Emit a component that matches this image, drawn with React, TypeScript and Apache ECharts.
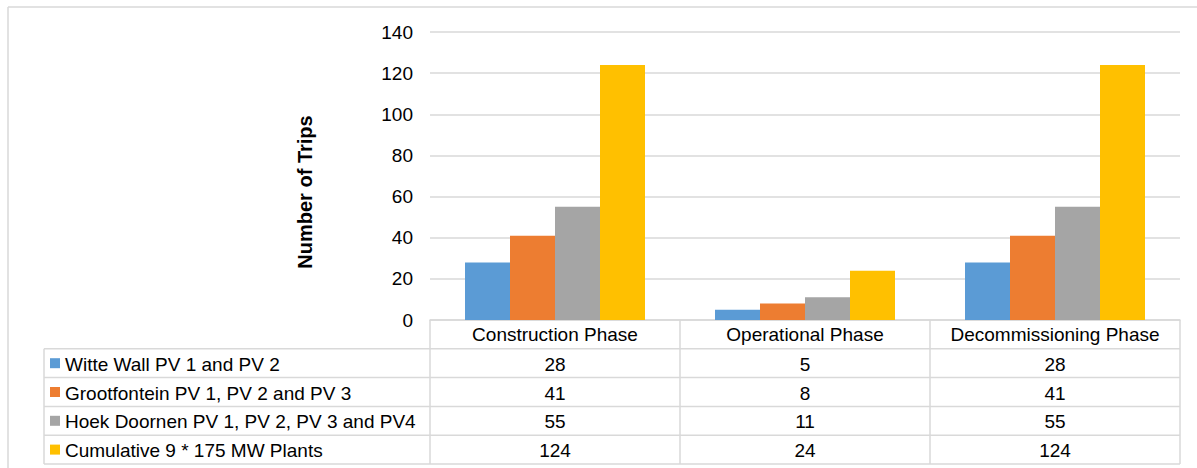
import React, { useEffect, useRef } from "react";
import * as echarts from "echarts";

const categories = ["Construction Phase", "Operational Phase", "Decommissioning Phase"];
const seriesNames = [
  "Witte Wall PV 1 and PV 2",
  "Grootfontein PV 1, PV 2 and PV 3",
  "Hoek Doornen PV 1, PV 2, PV 3 and PV4",
  "Cumulative 9 * 175 MW Plants",
];
const witteWall = [28, 5, 28];
const grootfontein = [41, 8, 41];
const hoekDoornen = [55, 11, 55];
const cumulative = [124, 24, 124];
const seriesValues = [witteWall, grootfontein, hoekDoornen, cumulative];
const colors = ["#5B9BD5", "#ED7D31", "#A5A5A5", "#FFC000"];
const yTicks = [0, 20, 40, 60, 80, 100, 120, 140];

const W = 1197;
const H = 468;
const GRID_LEFT = 430;
const GRID_RIGHT = 1180;
const GRID_TOP = 32;
const GRID_BOTTOM = 320;
const TABLE_LEFT = 44;
const ROW_H = 28.8;
const FONT = "'Liberation Sans', Arial, sans-serif";
const LINE = "#d9d9d9";
const FS = 19;

export default function App() {
  const ref = useRef<HTMLDivElement>(null);
  useEffect(() => {
    if (!ref.current) return;
    const chart = echarts.init(ref.current, undefined, { renderer: "svg" });
    const nRows = seriesNames.length;
    const tableBottom = GRID_BOTTOM + ROW_H * (nRows + 1);
    chart.setOption({
      animation: false,
      backgroundColor: "#ffffff",
      textStyle: { fontFamily: FONT },
      grid: {
        left: GRID_LEFT,
        right: W - GRID_RIGHT,
        top: GRID_TOP,
        bottom: H - GRID_BOTTOM,
        containLabel: false,
      },
      xAxis: {
        type: "category",
        data: categories,
        axisLine: { show: true, lineStyle: { color: LINE, width: 1.5 } },
        axisTick: {
          show: true,
          inside: false,
          length: tableBottom - GRID_BOTTOM,
          lineStyle: { color: LINE, width: 1.5 },
        },
        axisLabel: {
          color: "#000",
          fontSize: FS,
          fontFamily: FONT,
          margin: 5,
          interval: 0,
        },
      },
      yAxis: {
        type: "value",
        min: 0,
        max: 140,
        interval: 20,
        axisLine: { show: false },
        axisTick: { show: false },
        axisLabel: {
          color: "#000",
          fontSize: FS,
          fontFamily: FONT,
          margin: 17,
          formatter: (v: number) => (yTicks.includes(v) ? String(v) : ""),
        },
        splitLine: { lineStyle: { color: LINE, width: 1.5 } },
      },
      series: seriesNames.map((name, i) => ({
        name,
        type: "bar",
        data: seriesValues[i],
        barWidth: 45,
        barGap: "0%",
        itemStyle: { color: colors[i] },
      })),
    });

    const y0 = chart.convertToPixel({ yAxisIndex: 0 }, 0) as number;
    const xs = categories.map((_, j) => chart.convertToPixel({ xAxisIndex: 0 }, j) as number);
    const graphic: any[] = [];
    graphic.push({
      type: "line",
      shape: { x1: 8, y1: 7, x2: W, y2: 7 },
      style: { stroke: LINE, lineWidth: 1.5 },
    });
    graphic.push({
      type: "line",
      shape: { x1: 8, y1: 7, x2: 8, y2: H },
      style: { stroke: LINE, lineWidth: 1.5 },
    });
    graphic.push({
      type: "text",
      x: 305,
      y: 192,
      rotation: Math.PI / 2,
      style: {
        text: "Number of Trips",
        fontSize: 20,
        fontWeight: "bold",
        fontFamily: FONT,
        fill: "#000",
        align: "center",
        verticalAlign: "middle",
      },
    });
    for (let r = 1; r <= nRows + 1; r++) {
      const y = y0 + r * ROW_H;
      graphic.push({
        type: "line",
        shape: { x1: TABLE_LEFT, y1: y, x2: GRID_RIGHT, y2: y },
        style: { stroke: LINE, lineWidth: 1.5 },
      });
    }
    graphic.push({
      type: "line",
      shape: { x1: TABLE_LEFT, y1: y0 + ROW_H, x2: TABLE_LEFT, y2: y0 + ROW_H * (nRows + 1) },
      style: { stroke: LINE, lineWidth: 1.5 },
    });
    seriesNames.forEach((name, i) => {
      const cy = y0 + ROW_H * (i + 1.5);
      graphic.push({
        type: "rect",
        shape: { x: 50, y: cy - 5, width: 10, height: 10 },
        style: { fill: colors[i] },
      });
      graphic.push({
        type: "text",
        x: 65,
        y: cy + 1,
        style: {
          text: name,
          fontSize: FS,
          fontFamily: FONT,
          fill: "#000",
          align: "left",
          verticalAlign: "middle",
        },
      });
      seriesValues[i].forEach((v, j) => {
        graphic.push({
          type: "text",
          x: xs[j],
          y: cy + 1,
          style: {
            text: String(v),
            fontSize: FS,
            fontFamily: FONT,
            fill: "#000",
            align: "center",
            verticalAlign: "middle",
          },
        });
      });
    });
    chart.setOption({ graphic });
    return () => chart.dispose();
  }, []);
  return (
    <div
      ref={ref}
      style={{ position: "fixed", left: 0, top: 0, width: W, height: H, background: "#fff" }}
    />
  );
}
